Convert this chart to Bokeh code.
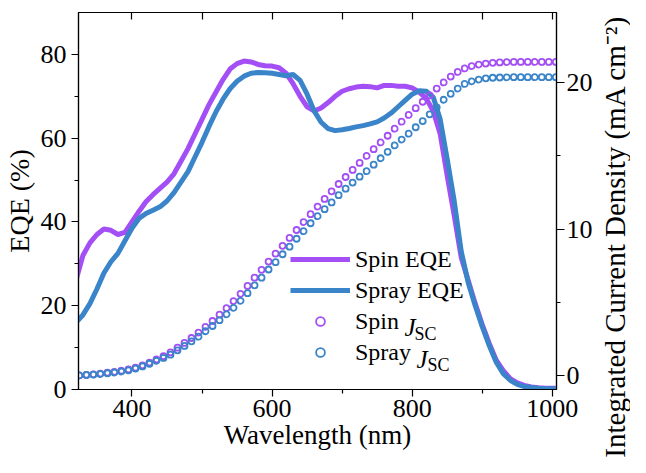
from bokeh.plotting import figure
from bokeh.layouts import row, column
from bokeh.models import (Range1d, LinearAxis, FixedTicker, Legend, LegendItem, Label,
                          CustomJSTickFormatter, Spacer)
from bokeh.embed import file_html
from bokeh.resources import INLINE

# ---------------- data ----------------
wl_eqe = [320, 330, 340, 350, 360, 370, 380, 390, 400, 410,
          420, 430, 440, 450, 460, 470, 480, 490, 500, 510,
          520, 530, 540, 550, 560, 570, 580, 590, 600, 610,
          620, 630, 640, 650, 660, 670, 680, 690, 700, 710,
          720, 730, 740, 750, 760, 770, 780, 790, 800, 810,
          820, 830, 840, 850, 860, 870, 880, 890, 900, 910,
          920, 930, 940, 950, 960, 970, 980, 990, 1000, 1005]

spin_eqe = [26.0, 32.0, 35.0, 37.0, 38.3, 38.0, 37.0, 37.5, 40.0, 42.5,
            44.8, 46.5, 48.0, 49.5, 51.5, 54.5, 57.5, 61.0, 64.5, 68.0,
            71.0, 74.0, 76.5, 77.8, 78.4, 78.2, 77.6, 77.3, 77.2, 76.8,
            75.5, 73.0, 70.0, 67.5, 66.5, 67.2, 68.5, 70.0, 71.2, 71.8,
            72.2, 72.4, 72.3, 72.0, 72.6, 72.6, 72.4, 72.4, 72.0, 71.0,
            69.5, 66.5, 61.0, 51.0, 41.5, 31.5, 26.0, 20.5, 15.5, 11.0,
            7.0, 4.5, 2.6, 1.6, 1.0, 0.6, 0.4, 0.3, 0.3, 0.3]

spray_eqe = [16.0, 17.8, 20.5, 24.0, 27.8, 30.5, 32.5, 35.5, 38.5, 40.8,
             42.0, 42.8, 43.6, 45.0, 47.0, 49.5, 52.0, 55.5, 59.0, 62.8,
             66.3, 69.3, 71.8, 73.6, 74.8, 75.5, 75.7, 75.6, 75.5, 75.2,
             74.9, 75.2, 73.8, 70.5, 66.5, 63.8, 62.3, 61.8, 62.0, 62.3,
             62.7, 63.0, 63.4, 63.9, 64.8, 66.0, 67.5, 69.0, 70.5, 71.3,
             71.2, 69.8, 64.5, 55.0, 45.0, 33.0, 25.5, 20.0, 15.0, 10.5,
             6.5, 3.8, 2.2, 1.2, 0.7, 0.5, 0.3, 0.2, 0.2, 0.2]

wl_jsc = [325, 335, 345, 355, 365, 375, 385, 395, 405, 415,
          425, 435, 445, 455, 465, 475, 485, 495, 505, 515,
          525, 535, 545, 555, 565, 575, 585, 595, 605, 615,
          625, 635, 645, 655, 665, 675, 685, 695, 705, 715,
          725, 735, 745, 755, 765, 775, 785, 795, 805, 815,
          825, 835, 845, 855, 865, 875, 885, 895, 905, 915,
          925, 935, 945, 955, 965, 975, 985, 995, 1005]

spin_jsc = [0.00, 0.04, 0.08, 0.13, 0.19, 0.25, 0.32, 0.41, 0.53, 0.69,
            0.88, 1.09, 1.32, 1.58, 1.90, 2.22, 2.56, 2.93, 3.32, 3.72,
            4.15, 4.60, 5.08, 5.58, 6.12, 6.68, 7.22, 7.78, 8.32, 8.86,
            9.40, 9.94, 10.48, 11.02, 11.54, 12.06, 12.58, 13.08, 13.56, 14.04,
            14.52, 15.00, 15.46, 15.92, 16.38, 16.86, 17.34, 17.80, 18.26, 18.70,
            19.14, 19.60, 20.02, 20.42, 20.74, 20.98, 21.14, 21.24, 21.31, 21.36,
            21.39, 21.41, 21.42, 21.42, 21.42, 21.42, 21.42, 21.42, 21.42]

spray_jsc = [0.00, 0.03, 0.06, 0.10, 0.15, 0.20, 0.27, 0.35, 0.47, 0.62,
             0.80, 1.00, 1.20, 1.42, 1.72, 2.02, 2.33, 2.65, 3.02, 3.38,
             3.78, 4.18, 4.62, 5.10, 5.62, 6.16, 6.68, 7.24, 7.74, 8.28,
             8.80, 9.34, 9.86, 10.40, 10.88, 11.36, 11.82, 12.32, 12.76, 13.18,
             13.58, 13.96, 14.40, 14.84, 15.28, 15.72, 16.12, 16.52, 16.96, 17.38,
             17.84, 18.32, 18.84, 19.24, 19.60, 19.92, 20.10, 20.22, 20.30, 20.34,
             20.36, 20.37, 20.38, 20.38, 20.38, 20.38, 20.38, 20.38, 20.38]

x_major = [400, 600, 800, 1000]
x_minor = [500, 700, 900]
top_ticks = [400, 500, 600, 700, 800, 900, 1000]
eqe_major = [0, 20, 40, 60, 80]
eqe_minor = [10, 30, 50, 70]
jsc_major = [0, 10, 20]
jsc_minor = [5, 15]

labels = ["Spin EQE", "Spray EQE", "Spin", "Spray"]
jsc_title = "Integrated Current Density (mA cm\u207b\u00b2)"

# ---------------- style ----------------
PURPLE = "#A34FF5"
BLUE = "#3A84C9"
FONT = "'Liberation Serif', 'Times New Roman', serif"
TITLE_W = 35
TITLE_TOP = 15

p = figure(width=630 - TITLE_W, height=457, output_backend="svg", toolbar_location=None,
           x_range=Range1d(323.7, 1006), y_range=Range1d(0, 90),
           min_border_left=75, min_border_right=36, min_border_top=12,
           min_border_bottom=68)
p.grid.visible = False
p.outline_line_color = "black"
p.outline_line_width = 1.2
p.background_fill_color = "white"
p.border_fill_color = "white"

p.extra_y_ranges = {"jsc": Range1d(-0.96, 24.8)}


def style_axis(ax, major_out=7, minor_out=4, standoff=4):
    ax.axis_line_width = 1.2
    ax.axis_line_color = "black"
    ax.major_tick_line_color = "black"
    ax.minor_tick_line_color = "black"
    ax.major_tick_line_width = 1.2
    ax.minor_tick_line_width = 1.2
    ax.major_tick_in = 0
    ax.major_tick_out = major_out
    ax.minor_tick_in = 0
    ax.minor_tick_out = minor_out
    ax.major_label_text_font = FONT
    ax.major_label_text_font_size = "26px"
    ax.major_label_text_color = "black"
    ax.major_label_standoff = standoff
    ax.axis_label_text_font = FONT
    ax.axis_label_text_font_style = "normal"
    ax.axis_label_text_color = "black"
    ax.axis_label_standoff = 0


xa = p.xaxis[0]
xa.ticker = FixedTicker(ticks=x_major, minor_ticks=x_minor)
style_axis(xa, standoff=3)
xa.axis_label = "Wavelength (nm)"
xa.axis_label_text_font_size = "27px"

ya = p.yaxis[0]
ya.ticker = FixedTicker(ticks=eqe_major, minor_ticks=eqe_minor)
style_axis(ya, standoff=5)
ya.axis_label = "EQE (%)"
ya.axis_label_text_font_size = "28px"
ya.axis_label_standoff = 3

# right axis: ticks and tick labels
ra = LinearAxis(y_range_name="jsc", ticker=FixedTicker(ticks=jsc_major, minor_ticks=jsc_minor))
style_axis(ra, major_out=8, standoff=2)
p.add_layout(ra, "right")

ta = LinearAxis(ticker=FixedTicker(ticks=top_ticks, minor_ticks=[]),
                formatter=CustomJSTickFormatter(code="return ''"))
ta.axis_line_color = "black"
ta.axis_line_width = 1.2
ta.major_tick_in = 7
ta.major_tick_out = 0
ta.major_tick_line_width = 1.2
ta.major_tick_line_color = "black"
ta.minor_tick_in = 0
ta.minor_tick_out = 0
ta.major_label_standoff = 0
p.add_layout(ta, "above")

# ---------------- glyphs ----------------
r1 = p.line(wl_eqe, spin_eqe, line_width=5, line_color=PURPLE)
r2 = p.line(wl_eqe, spray_eqe, line_width=5, line_color=BLUE)
r3 = p.scatter(wl_jsc, spin_jsc, y_range_name="jsc", marker="circle", size=6,
               fill_color=None, line_color=PURPLE, line_width=1.8)
r4 = p.scatter(wl_jsc, spray_jsc, y_range_name="jsc", marker="circle", size=6,
               fill_color=None, line_color=BLUE, line_width=1.8)

legend = Legend(items=[LegendItem(label=labels[0], renderers=[r1]),
                       LegendItem(label=labels[1], renderers=[r2]),
                       LegendItem(label=labels[2], renderers=[r3]),
                       LegendItem(label=labels[3], renderers=[r4])],
                location=(212, 22))
legend.border_line_color = None
legend.background_fill_alpha = 0
legend.label_text_font = FONT
legend.label_text_font_size = "24px"
legend.label_text_color = "black"
legend.glyph_width = 60
legend.glyph_height = 22
legend.label_height = 30
legend.spacing = 1
legend.padding = 0
legend.margin = 0
legend.label_standoff = 5
p.add_layout(legend)

# J_SC parts of legend labels (italic J, subscript SC)
for (xj, yj, xs, ys) in [(326.0, 62.0, 336.0, 56.0), (338.0, 30.5, 349.0, 24.5)]:
    p.add_layout(Label(x=xj, y=yj, x_units="screen", y_units="screen", text="J",
                       text_font=FONT, text_font_style="italic", text_font_size="25px",
                       text_color="black", text_baseline="alphabetic"))
    p.add_layout(Label(x=xs, y=ys, x_units="screen", y_units="screen", text="SC",
                       text_font=FONT, text_font_size="18px",
                       text_color="black", text_baseline="alphabetic"))

# ---------------- right-hand title strip ----------------
# a thin companion figure whose left-axis label is the right y-axis title,
# so that it reads bottom-to-top
p2 = figure(width=TITLE_W, height=457 - TITLE_TOP, output_backend="svg",
            toolbar_location=None, x_range=Range1d(0, 1), y_range=Range1d(0, 1),
            min_border_left=0, min_border_right=0, min_border_top=0,
            min_border_bottom=0)
p2.grid.visible = False
p2.outline_line_color = None
p2.background_fill_color = "white"
p2.border_fill_color = "white"
p2.xaxis.visible = False
t_ax = p2.yaxis[0]
t_ax.ticker = FixedTicker(ticks=[], minor_ticks=[])
t_ax.formatter = CustomJSTickFormatter(code="return ''")
t_ax.axis_line_alpha = 0
t_ax.major_tick_in = 0
t_ax.major_tick_out = 0
t_ax.minor_tick_in = 0
t_ax.minor_tick_out = 0
t_ax.major_label_standoff = 0
t_ax.axis_label = jsc_title
t_ax.axis_label_text_font = FONT
t_ax.axis_label_text_font_style = "normal"
t_ax.axis_label_text_color = "black"
t_ax.axis_label_text_font_size = "29px"
t_ax.axis_label_standoff = 0

strip = column(Spacer(width=TITLE_W, height=TITLE_TOP), p2, spacing=0)
layout = row(p, strip, spacing=0)
open("out.html", "w").write(file_html(layout, INLINE))
